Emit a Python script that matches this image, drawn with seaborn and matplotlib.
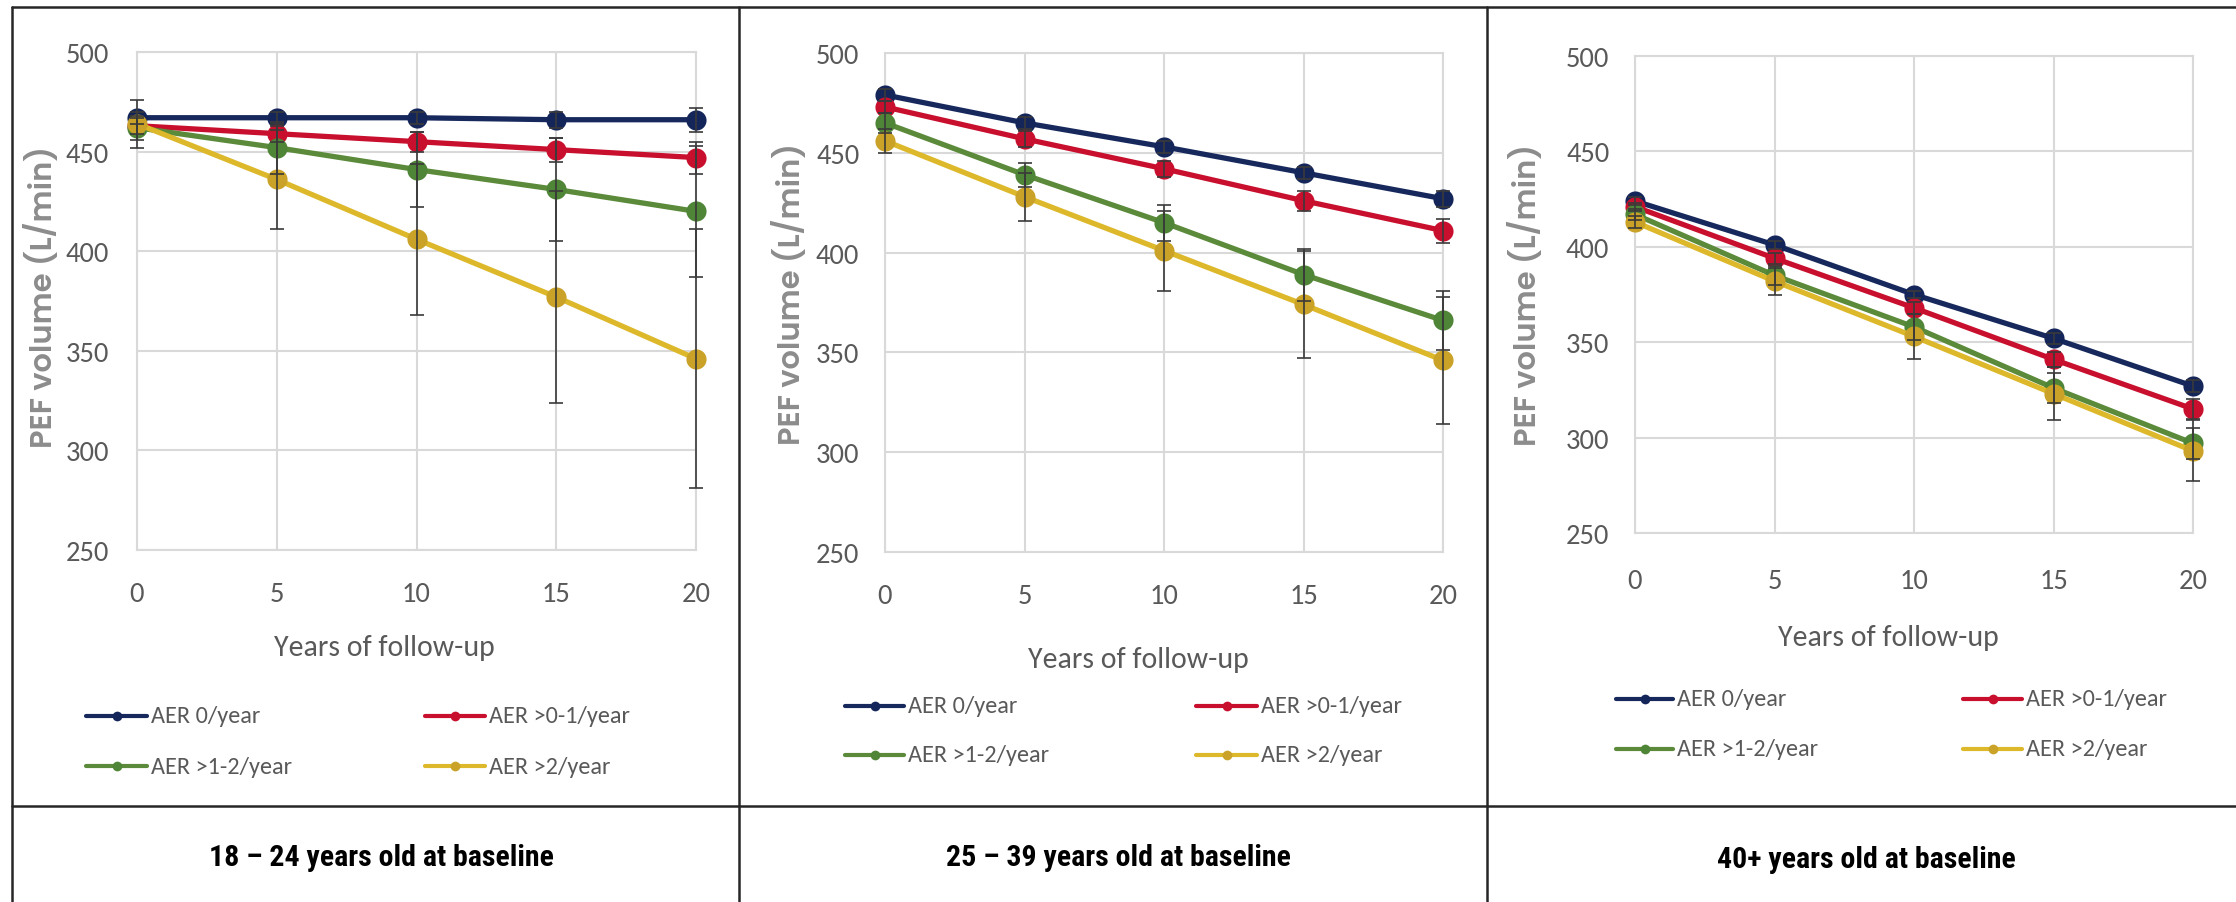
import matplotlib
matplotlib.use("Agg")
import matplotlib.pyplot as plt
from matplotlib.lines import Line2D
from matplotlib import font_manager
import seaborn as sns
import pandas as pd

# ---------------- data ----------------
years = [0, 5, 10, 15, 20]
groups = ["AER 0/year", "AER >0-1/year", "AER >1-2/year", "AER >2/year"]
panel_titles = ["18 – 24 years old at baseline",
                "25 – 39 years old at baseline",
                "40+ years old at baseline"]
y_ticks = [250, 300, 350, 400, 450, 500]

# 18-24 years
p1_aer0 = [467, 467, 467, 466, 466]
p1_aer01 = [463, 459, 455, 451, 447]
p1_aer12 = [462, 452, 441, 431, 420]
p1_aer2 = [464, 436, 406, 377, 346]
p1_err0 = [3, 3, 3, 4, 6]
p1_err01 = [4, 4, 5, 6, 8]
p1_err12 = [6, 13, 19, 26, 33]
p1_err2 = [12, 25, 38, 53, 65]

# 25-39 years
p2_aer0 = [479, 465, 453, 440, 427]
p2_aer01 = [473, 457, 442, 426, 411]
p2_aer12 = [465, 439, 415, 389, 366]
p2_aer2 = [456, 428, 401, 374, 346]
p2_err0 = [3, 3, 3, 3, 4]
p2_err01 = [3, 4, 4, 5, 6]
p2_err12 = [5, 6, 9, 13, 15]
p2_err2 = [6, 12, 20, 27, 32]

# 40+ years
p3_aer0 = [424, 401, 375, 352, 327]
p3_aer01 = [421, 394, 368, 341, 315]
p3_aer12 = [417, 385, 358, 326, 297]
p3_aer2 = [413, 382, 353, 323, 293]
p3_err0 = [2, 2, 2, 3, 3]
p3_err01 = [2, 3, 3, 4, 5]
p3_err12 = [3, 5, 7, 8, 8]
p3_err2 = [3, 7, 12, 14, 16]

panels = [
    ([p1_aer0, p1_aer01, p1_aer12, p1_aer2], [p1_err0, p1_err01, p1_err12, p1_err2]),
    ([p2_aer0, p2_aer01, p2_aer12, p2_aer2], [p2_err0, p2_err01, p2_err12, p2_err2]),
    ([p3_aer0, p3_aer01, p3_aer12, p3_aer2], [p3_err0, p3_err01, p3_err12, p3_err2]),
]

# ---------------- style ----------------
line_colors = ["#17295c", "#c8102e", "#5a8a3a", "#dcb82a"]
marker_colors = ["#14255a", "#c8102e", "#4f8536", "#c9a227"]

sns.set_style("white")
names = {f.name for f in font_manager.fontManager.ttflist}


def pick(cands, default="DejaVu Sans"):
    for c in cands:
        if c in names:
            return c
    return default


BODY = pick(["Carlito", "Open Sans", "Liberation Sans"])
TITLE = pick(["Roboto Condensed", "Archivo Narrow", "PT Sans Narrow", "IBM Plex Sans Condensed", "Liberation Sans"])
YLAB = pick(["Poppins", "Questrial", "Didact Gothic", "DejaVu Sans"])
plt.rcParams["font.family"] = [BODY, "DejaVu Sans"]

W, H = 2236, 903
fig = plt.figure(figsize=(W / 100, H / 100), dpi=100)
fig.patch.set_facecolor("white")


def fx(x):
    return x / W


def fy(y):
    return 1 - y / H


# axes rectangles in pixels: left, top, right, bottom
rects = [(137, 53, 696, 551), (885, 54, 1443, 553), (1635, 57, 2193, 534)]
ylabel_pos = [(43, 297), (790, 294), (1527, 295)]
xlabel_pos = [(384, 648), (1138, 660), (1888, 638)]
ytick_pad = [20, 18.5, 18.5]
xtick_pad = [22, 22, 25]
legend_cols = [((86, 147), (425, 485)), ((845, 904), (1196, 1257)), ((1616, 1673), (1963, 2022))]
legend_rows = [(717, 767), (707, 756), (700, 750)]
title_pos = [(381, 858), (1118, 858), (1866, 860)]

for p, (vals, errs) in enumerate(panels):
    l, t, r, b = rects[p]
    ax = fig.add_axes([fx(l), fy(b), (r - l) / W, (b - t) / H])
    rows = []
    for g, v in zip(groups, vals):
        for yr, val in zip(years, v):
            rows.append({"year": yr, "pef": val, "group": g})
    df = pd.DataFrame(rows)
    sns.lineplot(data=df, x="year", y="pef", hue="group", hue_order=groups,
                 palette=line_colors, marker="o", markersize=14.5, linewidth=3.8,
                 markeredgewidth=0, ax=ax, legend=False, errorbar=None)
    for ln, mc in zip(ax.lines, marker_colors):
        ln.set_markerfacecolor(mc)
        ln.set_clip_on(False)
        ln.set_zorder(3)
    for v, e in zip(vals, errs):
        eb = ax.errorbar(years, v, yerr=e, fmt="none", ecolor="#3a3a3a",
                         elinewidth=1.2, capsize=5, capthick=1.2, zorder=4)
        for art in list(eb.lines[1]) + list(eb.lines[2]):
            art.set_clip_on(False)

    ax.set_xlim(0, 20)
    ax.set_ylim(250, 500)
    ax.set_xticks(years)
    ax.set_yticks(y_ticks)
    ax.grid(True, color="#d9d9d9", linewidth=1.5)
    ax.set_axisbelow(True)
    for sp in ax.spines.values():
        sp.set_color("#d9d9d9")
        sp.set_linewidth(1.5)
    ax.tick_params(axis="both", length=0, labelsize=20.5, labelcolor="#595959")
    ax.tick_params(axis="y", pad=ytick_pad[p])
    ax.tick_params(axis="x", pad=xtick_pad[p])

    ax.set_ylabel("PEF volume (L/min)", fontsize=22, fontweight="semibold",
                  color="#8c8c8c", family=[YLAB, "DejaVu Sans"])
    lx, ly = ylabel_pos[p]
    ax.yaxis.set_label_coords((lx - l) / (r - l), (b - ly) / (b - t))
    ax.yaxis.label.set_verticalalignment("center")

    ax.set_xlabel("Years of follow-up", fontsize=21.5, color="#595959")
    cx, cy = xlabel_pos[p]
    ax.xaxis.set_label_coords((cx - l) / (r - l), (b - cy) / (b - t))
    ax.xaxis.label.set_verticalalignment("center")

    # legend (2 x 2)
    for k, g in enumerate(groups):
        (x0, x1) = legend_cols[p][k % 2]
        yy = legend_rows[p][k // 2]
        fig.add_artist(Line2D([fx(x0), fx(x1)], [fy(yy), fy(yy)], transform=fig.transFigure,
                              color=line_colors[k], linewidth=3.0))
        fig.add_artist(Line2D([fx((x0 + x1) / 2)], [fy(yy)], transform=fig.transFigure,
                              marker="o", markersize=7, markeredgewidth=0,
                              markerfacecolor=marker_colors[k], linestyle="none"))
        fig.text(fx(x1 + 4), fy(yy), g, fontsize=17.5, color="#595959",
                 ha="left", va="center")

    tx, ty = title_pos[p]
    fig.text(fx(tx), fy(ty), panel_titles[p], fontsize=21.5, fontweight="bold",
             color="black", ha="center", va="center", family=[TITLE, "DejaVu Sans"])

# table frame lines
frame_kw = dict(transform=fig.transFigure, color="#262626", linewidth=1.8)
fig.add_artist(Line2D([fx(12), fx(2236)], [fy(8), fy(8)], **frame_kw))
fig.add_artist(Line2D([fx(12), fx(12)], [fy(8), fy(903)], **frame_kw))
fig.add_artist(Line2D([fx(739), fx(739)], [fy(8), fy(903)], **frame_kw))
fig.add_artist(Line2D([fx(1487), fx(1487)], [fy(8), fy(903)], **frame_kw))
fig.add_artist(Line2D([fx(12), fx(2236)], [fy(807), fy(807)], **frame_kw))

fig.savefig("out.png", dpi=100, facecolor="white")
